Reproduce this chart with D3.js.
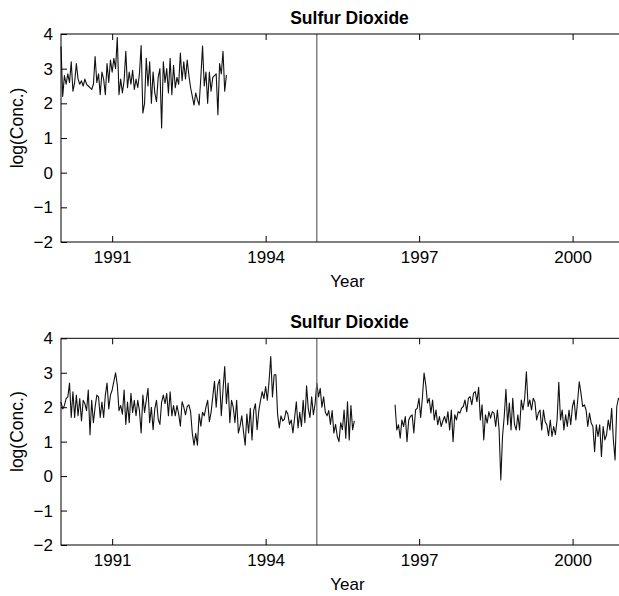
<!DOCTYPE html>
<html>
<head>
<meta charset="utf-8">
<script src="https://cdn.jsdelivr.net/npm/d3@7"></script>
<style>
  body { margin: 0; background: #fff; }
  text { font-family: "Liberation Sans", Arial, Helvetica, sans-serif; }
</style>
</head>
<body>
<div class="chart"></div>
<script>
// sampling interval of the series (years)
const step = 1 / 30;

// top panel: log concentration, starts Jan 1990
const topStart = 1990.0;
const topValues = [
  3.64, 2.2, 2.8, 2.55, 2.85, 2.6, 3.2, 2.35, 2.6, 3.15,
  2.7, 2.55, 2.65, 2.5, 2.7, 2.55, 2.5, 2.45, 2.4, 2.55,
  3.35, 2.6, 2.85, 2.25, 2.9, 2.7, 2.25, 3.15, 2.6, 3.25,
  2.9, 3.3, 3.0, 3.9, 2.25, 2.7, 2.3, 2.65, 3.5, 2.45,
  2.9, 2.55, 2.95, 2.4, 2.7, 2.45, 2.85, 3.67, 1.72, 2.0,
  3.3, 2.5, 3.2, 2.0, 2.9, 2.3, 2.05, 2.75, 3.0, 1.29,
  3.2, 2.6, 3.0, 2.3, 3.3, 2.25, 3.1, 2.45, 2.75, 2.55,
  3.45, 2.65, 3.2, 2.7, 3.25, 2.8, 2.45, 2.2, 1.95, 2.3,
  2.1, 1.95, 2.75, 3.65, 2.5, 2.9, 2.0, 2.9, 2.35, 2.75,
  2.8, 2.85, 1.67, 3.15, 2.85, 3.5, 2.35, 2.82
];

// bottom panel, first stretch
const bottomStartA = 1990.0;
const bottomValuesA = [
  2.15, 1.95, 2.05, 2.25, 2.3, 2.7, 1.7, 2.45, 1.7, 2.35,
  1.75, 2.25, 1.6, 2.2, 2.1, 1.9, 2.5, 1.2, 2.2, 1.55,
  2.0, 2.35, 2.3, 1.7, 2.15, 1.7, 2.35, 2.7, 1.95, 2.35,
  2.5, 2.75, 3.0, 2.65, 1.9, 2.05, 1.8, 2.5, 1.5, 2.15,
  1.55, 2.4, 1.85, 2.2, 1.75, 2.2, 1.9, 1.25, 2.35, 1.85,
  2.2, 2.55, 1.55, 2.0, 1.35, 1.95, 2.2, 1.65, 1.5, 2.15,
  2.35, 2.1, 2.4, 1.75, 2.45, 1.75, 2.05, 1.75, 2.05, 1.8,
  1.45, 2.16, 2.0, 1.78, 2.02, 2.07, 1.87, 1.24, 0.9, 1.24,
  0.9, 1.8, 1.45, 1.85, 1.75, 2.0, 2.2, 1.58, 1.85, 2.3,
  2.75, 2.0, 2.65, 2.8, 1.75, 2.5, 3.18, 2.1, 2.7, 1.55,
  2.2, 2.0, 1.55, 2.2, 1.25, 1.45, 1.75, 1.3, 0.9, 1.8,
  1.25, 1.97, 1.05, 1.9, 2.1, 1.35, 1.9, 2.2, 2.45, 2.25,
  2.6, 2.2, 2.75, 3.47, 2.3, 2.94, 2.94, 1.8, 1.4, 1.75,
  1.6, 1.65, 1.9, 1.8, 1.5, 1.63, 1.25, 1.7, 2.16, 1.4,
  1.85, 1.44, 2.2, 1.55, 2.62, 1.95, 1.7, 2.3, 1.78, 2.1,
  2.7, 2.3, 2.55, 2.0, 2.3, 1.85, 1.75, 1.9, 1.5, 1.9,
  1.25, 1.5, 1.15, 1.0, 1.55, 1.35, 1.92, 1.1, 2.16, 1.05,
  2.05, 1.35, 1.6
];

// bottom panel, second stretch after the gap
const bottomStartB = 1996.53;
const bottomValuesB = [
  2.07, 1.34, 1.49, 1.1, 1.63, 1.44, 1.73, 1.0, 1.63, 1.73,
  1.78, 1.25, 1.92, 1.97, 2.26, 1.7, 2.26, 2.99, 2.65, 2.12,
  2.26, 1.83, 2.21, 1.63, 1.92, 1.49, 1.73, 1.44, 1.6, 1.73,
  1.54, 1.87, 1.34, 1.92, 1.0, 1.78, 1.63, 1.87, 1.83, 1.97,
  2.02, 2.21, 1.87, 2.26, 2.31, 2.07, 2.41, 2.45, 2.16, 2.58,
  1.63, 2.07, 1.05, 1.78, 1.54, 1.87, 1.68, 1.87, 1.83, 1.44,
  1.92, 1.34, -0.11, 1.15, 1.73, 2.52, 1.49, 2.12, 1.34, 2.26,
  1.5, 1.34, 1.78, 1.34, 2.21, 1.92, 2.26, 3.03, 2.02, 2.21,
  1.92, 2.26, 2.16, 1.63, 1.83, 1.92, 1.34, 1.92, 1.58, 1.49,
  1.17, 1.63, 1.15, 1.44, 1.2, 1.63, 2.72, 1.63, 1.92, 1.34,
  1.78, 1.44, 1.92, 1.49, 2.02, 2.21, 1.63, 2.16, 2.74, 2.41,
  2.02, 2.07, 1.92, 1.44, 1.83, 1.54, 1.44, 0.71, 1.49, 1.15,
  1.49, 0.57, 1.44, 1.05, 1.2, 1.63, 1.34, 1.97, 1.05, 0.47,
  2.02, 2.26, 2.2
];

const xTickYears = [1991, 1994, 1997, 2000];
const yTickValues = [-2, -1, 0, 1, 2, 3, 4];
const markerYear = 1995;
const chartTitle = "Sulfur Dioxide";
const xLabelText = "Year";
const yLabelText = "log(Conc.)";

const W = 619, H = 596;
const left = 61, plotW = 573;

function toPoints(start, values) {
  return values.map((v, i) => ({ year: start + i * step, value: v }));
}

const panels = [
  { top: 34, bottom: 242, series: [toPoints(topStart, topValues)] },
  { top: 338.3, bottom: 545, series: [toPoints(bottomStartA, bottomValuesA), toPoints(bottomStartB, bottomValuesB)] }
];

const xScale = d3.scaleLinear().domain([1990, 2001.2]).range([left, left + plotW]);

const svg = d3.select(".chart").append("svg")
  .attr("width", W)
  .attr("height", H);

panels.forEach((p, k) => {
  const yScale = d3.scaleLinear().domain([-2, 4]).range([p.bottom, p.top]);
  const g = svg.append("g");

  const line = d3.line()
    .x(d => xScale(d.year))
    .y(d => yScale(d.value));

  g.selectAll("path.series")
    .data(p.series)
    .enter()
    .append("path")
    .attr("class", "series")
    .attr("d", line)
    .attr("fill", "none")
    .attr("stroke", "#111")
    .attr("stroke-width", 1.1)
    .attr("stroke-linejoin", "round");

  // marker at 1995
  g.append("line")
    .attr("x1", xScale(markerYear)).attr("x2", xScale(markerYear))
    .attr("y1", p.top).attr("y2", p.bottom)
    .attr("stroke", "#6e6e6e")
    .attr("stroke-width", 1.3);

  const xAxis = d3.axisBottom(xScale)
    .tickValues(xTickYears)
    .tickFormat(d3.format("d"))
    .tickSize(-6)
    .tickPadding(9);

  const xAxisTop = d3.axisTop(xScale)
    .tickValues(xTickYears)
    .tickFormat("")
    .tickSize(-6);

  const yAxis = d3.axisLeft(yScale)
    .tickValues(yTickValues)
    .tickFormat(d3.format("d"))
    .tickSize(-6)
    .tickPadding(8);

  g.append("g")
    .attr("transform", `translate(0,${p.bottom})`)
    .call(xAxis)
    .call(a => a.select(".domain").remove())
    .attr("font-size", 17)
    .attr("font-family", null);

  g.append("g")
    .attr("transform", `translate(0,${p.top})`)
    .call(xAxisTop)
    .call(a => a.select(".domain").remove());

  g.append("g")
    .attr("transform", `translate(${left},0)`)
    .call(yAxis)
    .call(a => a.select(".domain").remove())
    .attr("font-size", 17)
    .attr("font-family", null);

  // axes box
  g.append("rect")
    .attr("x", left)
    .attr("y", p.top)
    .attr("width", plotW)
    .attr("height", p.bottom - p.top)
    .attr("fill", "none")
    .attr("stroke", "#000")
    .attr("stroke-width", 1);

  g.append("text")
    .attr("x", left + plotW / 2 + 2)
    .attr("y", p.top - 10.5)
    .attr("text-anchor", "middle")
    .attr("font-size", 17.5)
    .attr("font-weight", "bold")
    .text(chartTitle);

  g.append("text")
    .attr("x", left + plotW / 2)
    .attr("y", p.bottom + 45)
    .attr("text-anchor", "middle")
    .attr("font-size", 17)
    .text(xLabelText);

  g.append("text")
    .attr("transform", `translate(23,${(p.top + p.bottom) / 2 - 10}) rotate(-90)`)
    .attr("text-anchor", "middle")
    .attr("font-size", 17.5)
    .text(yLabelText);
});
</script>
</body>
</html>
